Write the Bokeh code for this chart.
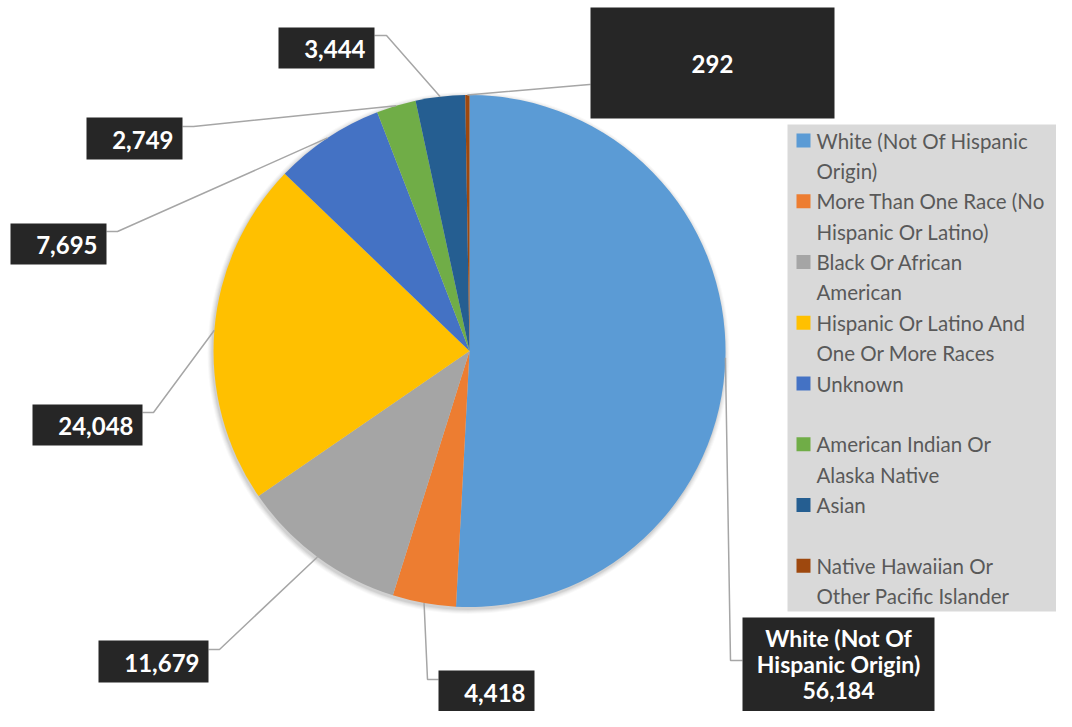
import math
from bokeh.plotting import figure
from bokeh.models import Range1d, ColumnDataSource
from bokeh.core.properties import value
from bokeh.embed import file_html
from bokeh.resources import INLINE

# ---------------- data ----------------
categories = [
    "White (Not Of Hispanic Origin)",
    "More Than One Race (No Hispanic Or Latino)",
    "Black Or African American",
    "Hispanic Or Latino And One Or More Races",
    "Unknown",
    "American Indian Or Alaska Native",
    "Asian",
    "Native Hawaiian Or Other Pacific Islander",
]
counts = [56184, 4418, 11679, 24048, 7695, 2749, 3444, 292]
colors = ["#5B9BD5", "#ED7D31", "#A5A5A5", "#FFC000", "#4472C4", "#70AD47", "#255E91", "#9E480E"]
legend_lines = [
    ["White (Not Of Hispanic", "Origin)"],
    ["More Than One Race (No", "Hispanic Or Latino)"],
    ["Black Or African", "American"],
    ["Hispanic Or Latino And", "One Or More Races"],
    ["Unknown", ""],
    ["American Indian Or", "Alaska Native"],
    ["Asian", ""],
    ["Native Hawaiian Or", "Other Pacific Islander"],
]

# ---------------- layout (pixel coords, y down) ----------------
W, H = 1056, 711
CX, CY, R = 469.0, 350.5, 256.0
# label boxes: left, top, right, bottom
boxes = [
    (742, 617, 934, 740),
    (438, 670, 534, 712),
    (98, 640, 208, 682),
    (32, 404, 142, 445),
    (10, 223, 106, 264),
    (86, 117, 182, 159),
    (278, 27, 374, 68),
    (590, 7, 834, 118),
]
leader_start = [
    [(742, 660), (730, 660)],
    [(438, 679), (427, 679)],
    [(208, 649), (219, 649)],
    [(142, 412), (153, 412)],
    [(106, 231), (117, 231)],
    [(182, 126), (193, 126)],
    [(374, 35), (386, 35)],
    [(590, 84), (589, 84)],
]

def Y(yp):
    return H - yp

p = figure(width=W, height=H, output_backend="svg", toolbar_location=None,
           x_range=Range1d(0, W), y_range=Range1d(0, H),
           min_border=0, background_fill_color="white", border_fill_color="white")
p.axis.visible = False
p.grid.visible = False
p.outline_line_color = None

# ---- pie ----
total = float(sum(counts))
cum = [0.0]
for c in counts:
    cum.append(cum[-1] + c / total)
start_a = [math.radians(90 - 360 * cum[i + 1]) for i in range(len(counts))]
end_a = [math.radians(90 - 360 * cum[i]) for i in range(len(counts))]

# soft shadow
for k, a in [(5, 0.025), (4, 0.03), (3, 0.035), (2, 0.045), (1, 0.06)]:
    p.circle(x=[CX - 1], y=[Y(CY) - 2], radius=R + k, fill_color="black",
             fill_alpha=a, line_color=None)

src = ColumnDataSource(dict(start=start_a, end=end_a, color=colors))
p.wedge(x=CX, y=Y(CY), radius=R, start_angle="start", end_angle="end",
        fill_color="color", line_color=None, source=src)

# ---- leader lines ----
for i in range(len(counts)):
    mid = 2 * math.pi * (cum[i] + cum[i + 1]) / 2
    ex = CX + R * math.sin(mid)
    ey = CY - R * math.cos(mid)
    pts = leader_start[i] + [(ex, ey)]
    p.line(x=[q[0] for q in pts], y=[Y(q[1]) for q in pts],
           line_color="#A6A6A6", line_width=1.5)

# ---- label boxes ----
for i, (l, t, r, b) in enumerate(boxes):
    p.quad(left=l, right=r, top=Y(t), bottom=Y(b), fill_color="#262626", line_color=None)

lab_font = value("Lato")
for i, (l, t, r, b) in enumerate(boxes):
    txt = "{:,}".format(counts[i])
    if i == 0:
        lines = ["White (Not Of", "Hispanic Origin)", txt]
        for j, s in enumerate(lines):
            p.text(x=[(l + r) / 2], y=[Y(637 + j * 26.5)], text=[s], text_font=lab_font,
                   text_font_style="bold", text_font_size="23px", text_color="white",
                   text_align="center", text_baseline="middle")
    elif i == 7:
        p.text(x=[(l + r) / 2], y=[Y(63)], text=[txt], text_font=lab_font,
               text_font_style="bold", text_font_size="24px", text_color="white",
               text_align="center", text_baseline="middle")
    else:
        p.text(x=[r - 9], y=[Y((t + b) / 2 + 1)], text=[txt], text_font=lab_font,
               text_font_style="bold", text_font_size="24px", text_color="white",
               text_align="right", text_baseline="middle")

# ---- legend ----
p.quad(left=787, right=1066, top=Y(124), bottom=Y(611), fill_color="#D9D9D9", line_color=None)
for i in range(len(categories)):
    yc = 140 + i * 60.75
    p.quad(left=796, right=810, top=Y(yc - 7), bottom=Y(yc + 7), fill_color=colors[i], line_color=None)
    for j, s in enumerate(legend_lines[i]):
        if s:
            p.text(x=[816], y=[Y(yc + j * 30.3)], text=[s], text_font=value("Lato"),
                   text_font_size="20.5px", text_color="#595959",
                   text_align="left", text_baseline="middle")

open("out.html", "w").write(file_html(p, INLINE))
